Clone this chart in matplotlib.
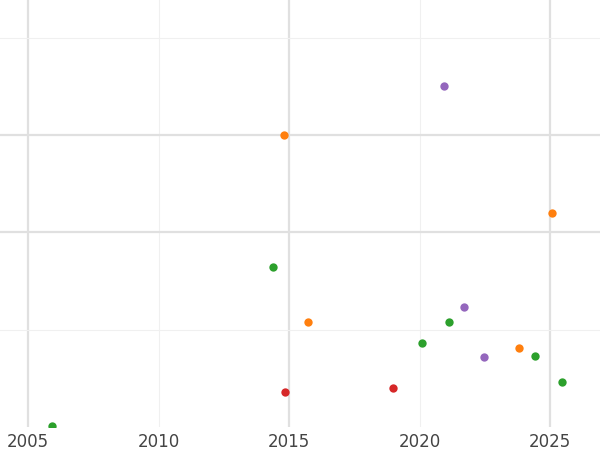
import matplotlib
matplotlib.use("Agg")
import matplotlib.pyplot as plt

# year, value, colour group
years_green = [2005.92, 2014.39, 2020.10, 2021.13, 2024.43, 2025.43]
vals_green = [0.01, 1.64, 0.86, 1.08, 0.73, 0.46]
years_orange = [2014.81, 2015.73, 2023.78, 2025.08]
vals_orange = [3.00, 1.08, 0.81, 2.20]
years_purple = [2020.94, 2021.71, 2022.44]
vals_purple = [3.51, 1.23, 0.72]
years_red = [2014.85, 2018.99]
vals_red = [0.36, 0.40]

x_ticks = [2005, 2010, 2015, 2020, 2025]
strong_x = [2005, 2015, 2025]
y_grid = [1, 2, 3, 4]
strong_y = [2, 3]

fig = plt.figure(figsize=(6, 4.5), dpi=100)
ax = fig.add_axes([0, 23 / 450, 1, 427 / 450])

for x in x_ticks:
    ax.axvline(x, color="#e0e0e0" if x in strong_x else "#f0f0f0",
               lw=1.6 if x in strong_x else 0.8, zorder=0)
for y in y_grid:
    ax.axhline(y, color="#e0e0e0" if y in strong_y else "#f0f0f0",
               lw=1.6 if y in strong_y else 0.8, zorder=0)

for xs, ys, c in [(years_green, vals_green, "#2ca02c"),
                  (years_orange, vals_orange, "#ff7f0e"),
                  (years_purple, vals_purple, "#9467bd"),
                  (years_red, vals_red, "#d62728")]:
    ax.scatter(xs, ys, s=36, color=c, zorder=3, clip_on=True, linewidths=0)

ax.set_xlim(2003.93, 2026.9)
ax.set_ylim(0, 4.39)
ax.set_xticks(x_ticks)
ax.set_yticks([])
ax.tick_params(axis="x", length=0, labelsize=12, colors="#444444", pad=4)
for s in ax.spines.values():
    s.set_visible(False)

fig.savefig("out.png", dpi=100)
